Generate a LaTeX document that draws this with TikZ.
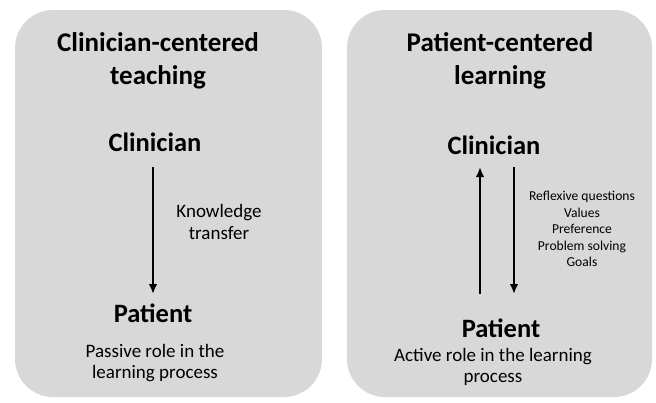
\documentclass[tikz,border=0pt]{standalone}
\usepackage{fontspec}
\setmainfont{Carlito}
\usepackage{xcolor}
\usetikzlibrary{positioning,arrows.meta}
\definecolor{panelgray}{RGB}{216,216,216}
\tikzset{
  panel/.style={fill=panelgray, draw=none, rounded corners=38pt},
  title/.style={font=\bfseries\fontsize{27}{33}\selectfont, align=center},
  role/.style={font=\bfseries\fontsize{26.5}{30}\selectfont},
  note/.style={font=\fontsize{19}{21.5}\selectfont, align=center},
  small/.style={font=\fontsize{13.6}{16.4}\selectfont, align=center},
  flow/.style={-{Latex[length=10pt,width=8.5pt]}, line width=2.3pt}
}
\begin{document}
\begin{tikzpicture}[x=1pt,y=-1pt]
    \useasboundingbox[fill=white] (0,0) rectangle (656,402);

    % Left panel: clinician-centered teaching
    \fill[panel] (15,10) rectangle (322,397);
    \node[title] (lefttitle) at (158,61) {Clinician-centered\\teaching};
    \node[role] (leftclin) at (155,142) {Clinician};
    \node[role] (leftpat) at (153,313) {Patient};
    \coordinate (ltop) at (153,167);
    \coordinate (lbot) at (153,294);
    \draw[flow] (ltop) -- (lbot);
    \node[note] (transfer) at (219,222) {Knowledge\\transfer};
    \node[note] (passive) at (155,363) {Passive role in the\\learning process};

    % Right panel: patient-centered learning
    \fill[panel] (347,10) rectangle (652,397);
    \node[title] (righttitle) at (500,61) {Patient-centered\\learning};
    \node[role] (rightclin) at (494,145) {Clinician};
    \node[role] (rightpat) at (501,328) {Patient};
    \coordinate (uptop) at (480,167);
    \coordinate (upbot) at (480,294);
    \coordinate (dntop) at (514,167);
    \coordinate (dnbot) at (514,294);
    \draw[flow] (upbot) -- (uptop);
    \draw[flow] (dntop) -- (dnbot);
    \node[small] (topics) at (582,229) {Reflexive questions\\Values\\Preference\\Problem solving\\Goals};
    \node[note] (active) at (493,367) {Active role in the learning\\process};
\end{tikzpicture}
\end{document}
